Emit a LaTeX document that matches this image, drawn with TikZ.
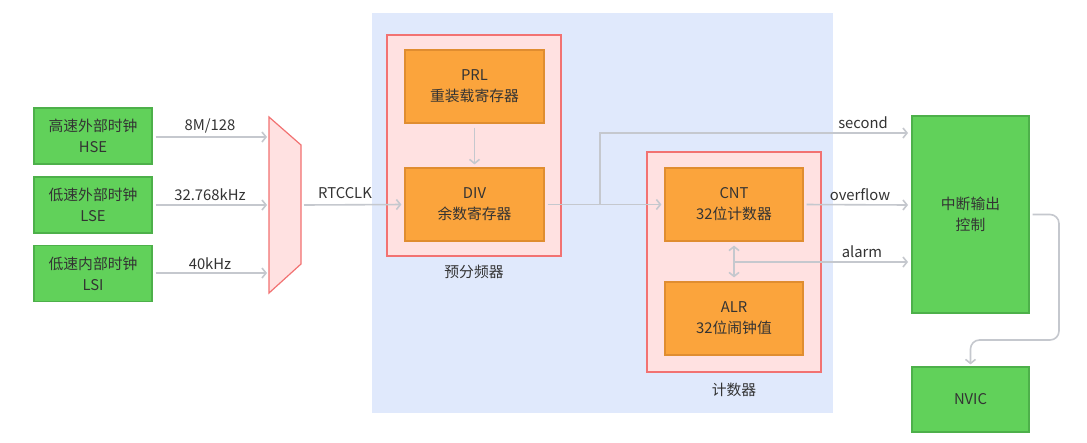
\documentclass[tikz,border=0pt]{standalone}
\usepackage{fontspec}
\setmainfont{Noto Sans CJK SC}
\usetikzlibrary{arrows.meta}
\definecolor{gfill}{HTML}{61D15A}
\definecolor{gdraw}{HTML}{4DB04A}
\definecolor{ofill}{HTML}{FBA43C}
\definecolor{odraw}{HTML}{E08D30}
\definecolor{pfill}{HTML}{FFE1E1}
\definecolor{pdraw}{HTML}{F27272}
\definecolor{bfill}{HTML}{E0E9FC}
\definecolor{wire}{HTML}{C5C8CE}
\definecolor{txt}{HTML}{333333}
\begin{document}
\begin{tikzpicture}[x=1pt,y=-1pt,
  font=\fontsize{14.8}{21}\selectfont, text=txt,
  gbox/.style={draw=gdraw, fill=gfill, line width=1.2pt, inner sep=0pt, align=center},
  obox/.style={draw=odraw, fill=ofill, line width=1.2pt, inner sep=0pt, align=center},
  grp/.style={draw=pdraw, fill=pfill, line width=1.2pt},
  wirestyle/.style={draw=wire, line width=1.6pt, -{Straight Barb[length=4pt,width=10pt]}},
  lbl/.style={inner sep=0pt}]
\path[use as bounding box, fill=white] (0,0) rectangle (1087,442);
% background and groups
\fill[bfill] (372,13) rectangle (833,413);
\draw[grp] (387,35) rectangle (561,256);
\draw[grp] (647,152) rectangle (821,372);
\node[lbl] (lpre) at (474,272) {预分频器};
\node[lbl] (lcnt) at (734,390) {计数器};
% sources
\node[gbox, minimum width=118pt, minimum height=56pt] (hse) at (93,136) {高速外部时钟\\HSE};
\node[gbox, minimum width=118pt, minimum height=56pt] (lse) at (93,205) {低速外部时钟\\LSE};
\node[gbox, minimum width=118pt, minimum height=56pt] (lsi) at (93,273.5) {低速内部时钟\\LSI};
% mux
\draw[draw=pdraw, fill=pfill, line width=1.2pt] (269,117) -- (301,145) -- (301,264) -- (269,293) -- cycle;
\coordinate (m1) at (267,137);
\coordinate (m2) at (267,205);
\coordinate (m3) at (267,273);
\coordinate (mo) at (304,205);
% registers
\node[obox, minimum width=139pt, minimum height=73pt] (prl) at (474.5,86.5) {PRL\\重装载寄存器};
\node[obox, minimum width=139pt, minimum height=73pt] (div) at (474.5,204.5) {DIV\\余数寄存器};
\node[obox, minimum width=138pt, minimum height=73pt] (cnt) at (734,204.5) {CNT\\32位计数器};
\node[obox, minimum width=138pt, minimum height=73pt] (alr) at (734,318.5) {ALR\\32位闹钟值};
% outputs
\node[gbox, minimum width=117pt, minimum height=197pt] (ctrl) at (970.5,214.5) {中断输出\\控制};
\node[gbox, minimum width=117pt, minimum height=65pt] (nvic) at (970.5,399.5) {NVIC};
\coordinate (secin) at (908,133);
\coordinate (ovin) at (908,205);
\coordinate (alin) at (908,262);
\coordinate (br1) at (600,205);
\coordinate (br2) at (734,262);
% wires
\draw[wirestyle, shorten <=3pt] (hse.east |- m1) -- (m1);
\draw[wirestyle, shorten <=3pt] (lse.east |- m2) -- (m2);
\draw[wirestyle, shorten <=3pt] (lsi.east |- m3) -- (m3);
\node[lbl] (l1) at (210,126) {8M/128};
\node[lbl] (l2) at (210,195) {32.768kHz};
\node[lbl] (l3) at (210,264) {40kHz};
\draw[wirestyle, shorten >=3pt] (mo) -- (div.west);
\node[lbl] (lrtc) at (345,193) {RTCCLK};
\draw[wirestyle, shorten <=4pt, shorten >=3pt] (prl.south) -- (div.north);
\draw[wirestyle, shorten <=3pt, shorten >=3pt] (div.east) -- (cnt.west);
\draw[wirestyle] (br1) |- (secin);
\node[lbl] (lsec) at (863,123) {second};
\draw[wirestyle, shorten <=3pt] (cnt.east) -- (ovin);
\node[lbl] (lov) at (860,195) {overflow};
\draw[wirestyle, {Straight Barb[length=4pt,width=10pt]}-{Straight Barb[length=4pt,width=10pt]}, shorten <=4pt, shorten >=4pt] (cnt.south) -- (alr.north);
\draw[wirestyle] (br2) -- (alin);
\node[lbl] (lal) at (862,252) {alarm};
\draw[wirestyle, rounded corners=9pt, shorten <=3pt, shorten >=2pt] (ctrl.east) -| (1059,340) -| (nvic.north);
\end{tikzpicture}
\end{document}
